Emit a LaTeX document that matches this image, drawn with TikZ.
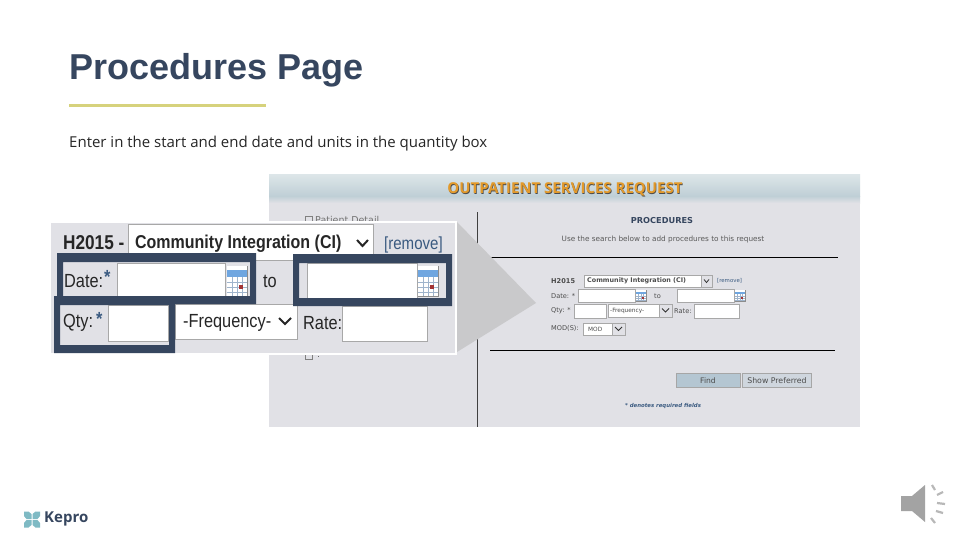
\documentclass[tikz,border=0pt]{standalone}
\usepackage{fontspec}
\setmainfont{Open Sans}
\newfontfamily\narrowf{Liberation Sans}
\newfontfamily\tahoma{DejaVu Sans}
\definecolor{navy}{HTML}{36465F}
\definecolor{panelbg}{HTML}{E1E1E6}
\definecolor{fieldedge}{HTML}{A8A8A8}
\definecolor{arrowgrey}{HTML}{C9C9CB}
\definecolor{teallogo}{HTML}{7FBAC4}
\definecolor{rule}{HTML}{D6D27C}
\definecolor{orangetxt}{HTML}{E39A2B}
\definecolor{linkblue}{HTML}{3A5A80}
\definecolor{findbtn}{HTML}{B4C6D2}
\definecolor{hdrdark}{HTML}{BFCFD6}
\definecolor{hdrlight}{HTML}{DCE5E8}
\definecolor{calgrid}{HTML}{9FB4CC}
\definecolor{calband}{HTML}{6FA6E0}
\tikzset{
  px/.style={x=1pt,y=-1pt},
  field/.style={draw=fieldedge,line width=0.7pt,fill=white},
  bigfield/.style={draw=fieldedge,line width=1pt,fill=white},
  bigtxt/.style={inner sep=0pt,anchor=west,text=black!85,font=\narrowf\fontsize{19}{21}\selectfont,xscale=0.86,transform shape},
  smalltxt/.style={inner sep=0pt,anchor=west,text=black!70,font=\tahoma\fontsize{6.6}{8}\selectfont},
  tick/.style={line width=2.2pt,draw=black!28},
  btn/.style={draw=gray!70,line width=0.7pt},
}
\newcommand{\calicon}[4]{%
  \fill[white] (#1,#2) rectangle (#3,#4);
  \fill[calband] (#1,{#2+(#4-#2)*0.14}) rectangle (#3,{#2+(#4-#2)*0.36});
  \foreach \f in {0.25,0.5,0.75}{
    \draw[calgrid,line width=0.35pt] ({#1+(#3-#1)*\f},{#2+(#4-#2)*0.36}) -- ({#1+(#3-#1)*\f},#4);
  }
  \foreach \f in {0.55,0.72,0.88}{
    \draw[calgrid,line width=0.35pt] (#1,{#2+(#4-#2)*\f}) -- (#3,{#2+(#4-#2)*\f});
  }
  \fill[red!55!black!80] ({#1+(#3-#1)*0.62},{#2+(#4-#2)*0.62}) rectangle ({#1+(#3-#1)*0.8},{#2+(#4-#2)*0.78});
  \draw[black!45,line width=0.5pt] (#1,#4) -- (#3,#4) -- (#3,#2);
}
\begin{document}
\begin{tikzpicture}[px]
\useasboundingbox (0,0) rectangle (960,540);
\fill[white] (0,0) rectangle (960,540);
% title
\node[inner sep=0pt,anchor=base west,text=navy,font=\narrowf\bfseries\fontsize{36}{40}\selectfont] (title) at (69.5,79.5) {Procedures Page};
\draw[rule,line width=3pt] (69,106) -- (266,106);
\node[inner sep=0pt,anchor=base west,text=black!85,font=\fontsize{15}{17}\selectfont] (intro) at (69,147.5) {Enter in the start and end date and units in the quantity box};
% screenshot panel
\fill[panelbg] (269,175) rectangle (860,427);
\shade[top color=hdrlight,bottom color=hdrdark] (269,175) rectangle (860,196);
\shade[top color=hdrdark,bottom color=panelbg] (269,196) rectangle (860,203);
\node[inner sep=0pt,text=black!70,font=\bfseries\fontsize{15}{17}\selectfont] at (565.6,190) {OUTPATIENT SERVICES REQUEST};
\node[inner sep=0pt,text=orangetxt,font=\bfseries\fontsize{15}{17}\selectfont] (hdr) at (565,189.4) {OUTPATIENT SERVICES REQUEST};
\draw[black!75,line width=0.9pt] (477,212) -- (477,427);
\node[inner sep=0pt,text=navy,font=\tahoma\bfseries\fontsize{8.2}{10}\selectfont] (proc) at (662,220.5) {PROCEDURES};
\node[inner sep=0pt,text=black!65,font=\tahoma\fontsize{7.3}{9}\selectfont] (usesearch) at (663,239.5) {Use the search below to add procedures to this request};
\draw[black,line width=0.8pt] (487,257) -- (838,257);
\node[smalltxt,text=black!55,font=\tahoma\fontsize{9.5}{11}\selectfont] (patient) at (315,220) {Patient Detail};
\draw[black!50,line width=0.5pt] (305,216) rectangle (312,222);
\draw[black!50,line width=0.5pt] (305,353) rectangle (312,359);
\fill[black!60] (317.5,355.5) rectangle (319,356.5);
% small form
\node[smalltxt,font=\tahoma\bfseries\fontsize{6.6}{8}\selectfont] (sh) at (551,281) {H2015};
\draw[field] (584,275) rectangle (712,287);
\node[smalltxt,font=\tahoma\bfseries\fontsize{6.4}{8}\selectfont] (ssel) at (587,281) {Community Integration (CI)};
\draw[field,fill=panelbg] (701,275) rectangle (712,287);
\draw[black!80,line width=0.8pt] (704,279.5) -- (706.5,282.5) -- (709,279.5);
\node[smalltxt,text=linkblue,font=\tahoma\fontsize{5.4}{7}\selectfont] (srem) at (717,281) {[remove]};
\node[smalltxt] (sdate) at (551,296) {Date: *};
\draw[field] (578,289) rectangle (635,302);
\calicon{636}{290}{646}{301}
\node[smalltxt] (sto) at (654,296) {to};
\draw[field] (677,289) rectangle (734,302);
\calicon{735}{290}{745}{301}
\node[smalltxt] (sqty) at (551,311) {Qty: *};
\draw[field] (574,304) rectangle (606,318);
\draw[field] (608,304) rectangle (672,317);
\node[smalltxt,font=\tahoma\fontsize{5.8}{7}\selectfont] (sfreq) at (610,311) {-Frequency-};
\draw[field,fill=panelbg] (659,304) rectangle (672,317);
\draw[black!80,line width=0.8pt] (662,308.5) -- (665.5,312) -- (669,308.5);
\node[smalltxt] (srate) at (674,311) {Rate:};
\draw[field] (694,304) rectangle (739,318);
\node[smalltxt] (smod) at (551,328) {MOD(S):};
\draw[field] (583,323) rectangle (625,335);
\node[smalltxt,font=\tahoma\fontsize{5.8}{7}\selectfont] (smodv) at (588,329) {MOD};
\draw[field,fill=panelbg] (612,323) rectangle (625,335);
\draw[black!80,line width=0.8pt] (615,327) -- (618.5,330.5) -- (622,327);
\draw[black,line width=0.8pt] (490,350) -- (835,350);
\node[btn,fill=findbtn,minimum width=64pt,minimum height=14.5pt,inner sep=0pt,text=black!70,font=\tahoma\fontsize{7.6}{9}\selectfont] (find) at (708,380.5) {Find};
\node[btn,fill=panelbg!60!findbtn,minimum width=69pt,minimum height=14.5pt,inner sep=0pt,text=black!70,font=\tahoma\fontsize{7.8}{9}\selectfont] (pref) at (777,380.5) {Show Preferred};
\node[inner sep=0pt,text=linkblue,font=\tahoma\bfseries\itshape\fontsize{5.4}{7}\selectfont] (req) at (663,406.5) {* denotes required fields};
% arrow
\fill[arrowgrey] (457,222) -- (536,303) -- (457,352) -- cycle;
% inset
\fill[panelbg] (51,223) rectangle (455,353);
\draw[white,line width=2.6pt] (269,222) -- (456,222) -- (456,354) -- (51,354);
\node[bigtxt,font=\narrowf\bfseries\fontsize{20}{22}\selectfont] (bigh) at (63,243) {H2015 -};
\draw[bigfield] (128,224) rectangle (373,260);
\node[bigtxt,font=\narrowf\bfseries\fontsize{18.6}{20}\selectfont] (bigsel) at (135,244) {Community Integration (CI)};
\draw[line width=2pt,black!85] (357,240) -- (362.5,246) -- (368,240);
\node[bigtxt,text=linkblue,font=\narrowf\fontsize{17.5}{19}\selectfont] (bigrem) at (384,244.5) {[remove]};
\draw[bigfield] (117,263) rectangle (225,296);
\calicon{227}{266}{247}{296}
\draw[bigfield] (307,263) rectangle (417,298);
\calicon{418}{266}{438}{296}
\node[bigtxt] (bigdate) at (64,281) {Date:};
\node[bigtxt,text=linkblue,font=\narrowf\bfseries\fontsize{19}{21}\selectfont] (bigds) at (104,277) {*};
\node[bigtxt] (bigto) at (263,281) {to};
\draw[bigfield] (175,304) rectangle (297,339);
\node[bigtxt] (bigfreq) at (183,323) {-Frequency-};
\draw[line width=2pt,black!85] (279,318) -- (285,324) -- (291,318);
\node[bigtxt] (bigrate) at (303,323) {Rate:};
\draw[bigfield] (342,306) rectangle (427,341);
\draw[bigfield] (108,305) rectangle (168,341);
\node[bigtxt] (bigqty) at (63,323) {Qty:};
\node[bigtxt,text=linkblue,font=\narrowf\bfseries\fontsize{19}{21}\selectfont] (bigqs) at (96,319) {*};
% highlight frames
\fill[navy,even odd rule] (57,253) rectangle (256,304) (63,262) rectangle (250,296);
\fill[navy,even odd rule] (293,254) rectangle (452,306) (299,263) rectangle (446,298);
\fill[navy,even odd rule] (54,296) rectangle (175,353) (60,305) rectangle (169,345);
% logo
\node[inner sep=0pt,anchor=west,text=navy,font=\bfseries\fontsize{15}{17}\selectfont] (kepro) at (44,519) {Kepro};
\foreach \a in {0,90,180,270}{
  \fill[teallogo,shift={(32,519.5)},rotate=\a] (0.5,-0.5) -- (0.5,-5.5) -- (3.5,-8) -- (8,-8) -- (8,-3.5) -- (5.5,-0.5) -- cycle;
}
% speaker
\fill[black!36] (901,496) -- (912,496) -- (925,485) -- (925,522) -- (912,511) -- (901,511) -- cycle;
\draw[tick] (932,485) -- (935,490);
\draw[tick] (937,495) -- (943,492);
\draw[tick] (937,503) -- (945,504);
\draw[tick] (936,511) -- (943,513);
\draw[tick] (931,518) -- (935,523);
\end{tikzpicture}
\end{document}
